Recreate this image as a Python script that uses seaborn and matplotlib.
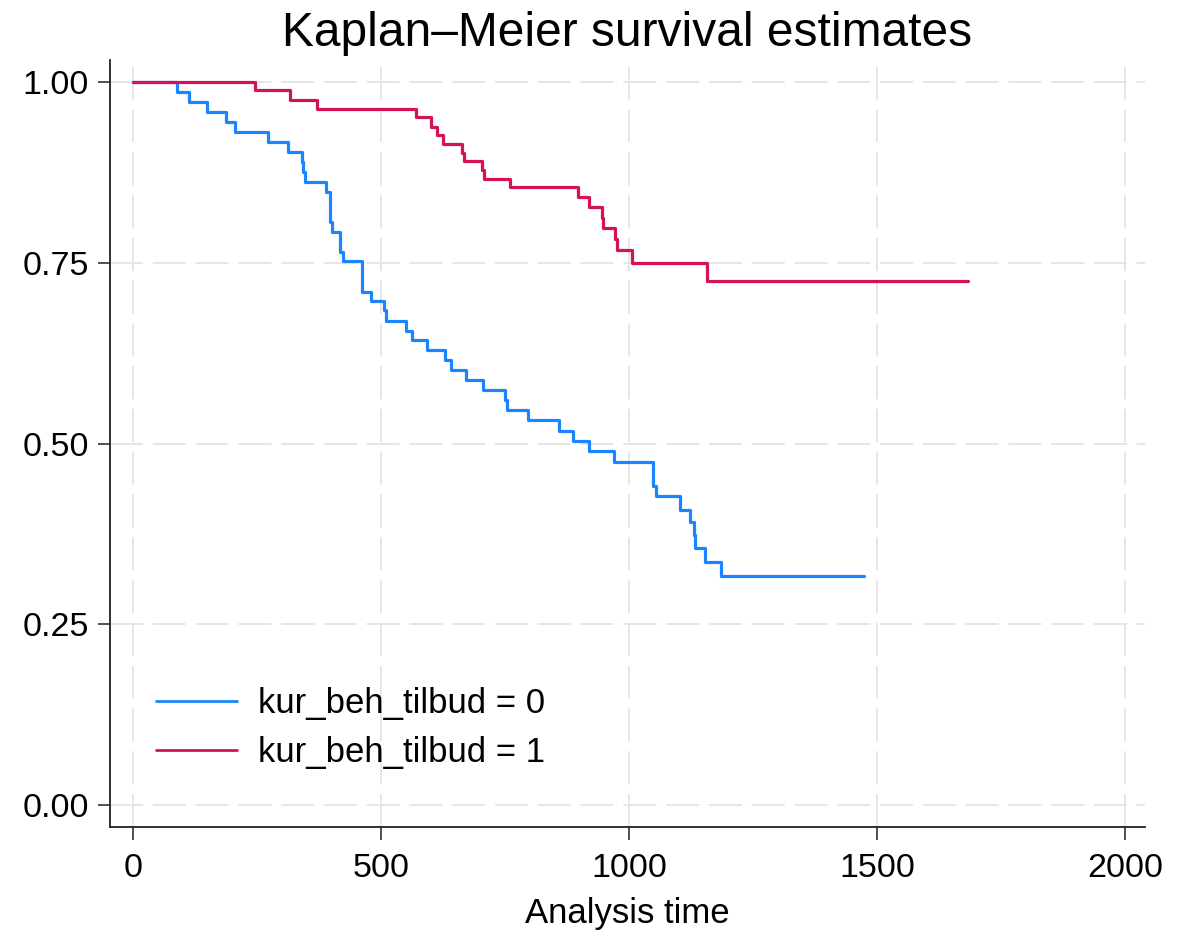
import matplotlib
matplotlib.use("Agg")
import matplotlib.pyplot as plt
import seaborn as sns
import pandas as pd

# ---- data (step points: time, survival) ----
group0_label = "kur_beh_tilbud = 0"
group1_label = "kur_beh_tilbud = 1"

time0 = [0, 90, 114, 149, 188, 206, 272, 313, 340, 343, 348, 389, 397, 402,
         417, 423, 462, 481, 506, 510, 550, 563, 592, 630, 642, 671, 705,
         751, 755, 796, 858, 887, 920, 970, 1049, 1054, 1103, 1123, 1130,
         1134, 1154, 1185, 1474]
surv0 = [1.0, 0.986, 0.972, 0.958, 0.944, 0.931, 0.917, 0.903, 0.889, 0.875,
         0.861, 0.847, 0.806, 0.793, 0.765, 0.752, 0.710, 0.697, 0.684, 0.670,
         0.656, 0.643, 0.629, 0.615, 0.601, 0.588, 0.574, 0.560, 0.546, 0.532,
         0.518, 0.504, 0.490, 0.475, 0.441, 0.427, 0.408, 0.391, 0.373, 0.355,
         0.336, 0.317, 0.317]

time1 = [0, 246, 316, 372, 571, 600, 614, 626, 663, 667, 704, 708, 760, 898,
         920, 946, 948, 972, 975, 1007, 1157, 1684]
surv1 = [1.0, 0.988, 0.975, 0.963, 0.951, 0.938, 0.926, 0.914, 0.902, 0.890,
         0.878, 0.866, 0.854, 0.841, 0.827, 0.812, 0.798, 0.783, 0.767, 0.750,
         0.724, 0.724]

x_ticks = [0, 500, 1000, 1500, 2000]
y_ticks = [0.0, 0.25, 0.5, 0.75, 1.0]
y_ticklabels = ["0.00", "0.25", "0.50", "0.75", "1.00"]

colors = {group0_label: "#1a85ff", group1_label: "#d41159"}

df = pd.concat([
    pd.DataFrame({"time": time0, "surv": surv0, "group": group0_label}),
    pd.DataFrame({"time": time1, "surv": surv1, "group": group1_label}),
], ignore_index=True)

sns.set_style("white")
plt.rcParams["font.family"] = ["Liberation Sans", "DejaVu Sans"]
plt.rcParams["text.color"] = "black"
plt.rcParams["axes.labelcolor"] = "black"
plt.rcParams["xtick.color"] = "#222222"
plt.rcParams["ytick.color"] = "#222222"

fig = plt.figure(figsize=(11.93, 9.31), dpi=100)
ax = fig.add_axes([0.0922, 0.1117, 0.8676, 0.8238])

sns.lineplot(data=df, x="time", y="surv", hue="group", palette=colors,
             estimator=None, sort=False, drawstyle="steps-post",
             linewidth=2.3, ax=ax)

ax.set_xlim(-46, 2040)
ax.set_ylim(-0.03, 1.03)
ax.set_xticks(x_ticks)
ax.set_xticklabels([str(t) for t in x_ticks])
ax.set_yticks(y_ticks)
ax.set_yticklabels(y_ticklabels)

ax.grid(True, color="#e6e6e6", linestyle=(0, (17, 5)), linewidth=1.4)
ax.set_axisbelow(True)

for s in ["top", "right"]:
    ax.spines[s].set_visible(False)
for s in ["left", "bottom"]:
    ax.spines[s].set_color("#222222")
    ax.spines[s].set_linewidth(1.3)

ax.tick_params(axis="x", direction="out", length=9, width=1.1,
               labelsize=24.5, pad=10, bottom=True, labelcolor="black")
ax.tick_params(axis="y", direction="out", length=9, width=1.1,
               labelsize=24.5, pad=6, left=True, labelcolor="black")

ax.set_xlabel("Analysis time", fontsize=25, labelpad=9)
ax.set_ylabel("")
ax.set_title("Kaplan\u2013Meier survival estimates", fontsize=34.5, pad=10)

leg = ax.legend(loc="lower left", bbox_to_anchor=(0.014, 0.035), frameon=False,
                fontsize=25, handlelength=2.35, handletextpad=0.6,
                labelspacing=0.45, title=None)
for line in leg.get_lines():
    line.set_linewidth(2.0)

fig.savefig("out.png", dpi=100)
